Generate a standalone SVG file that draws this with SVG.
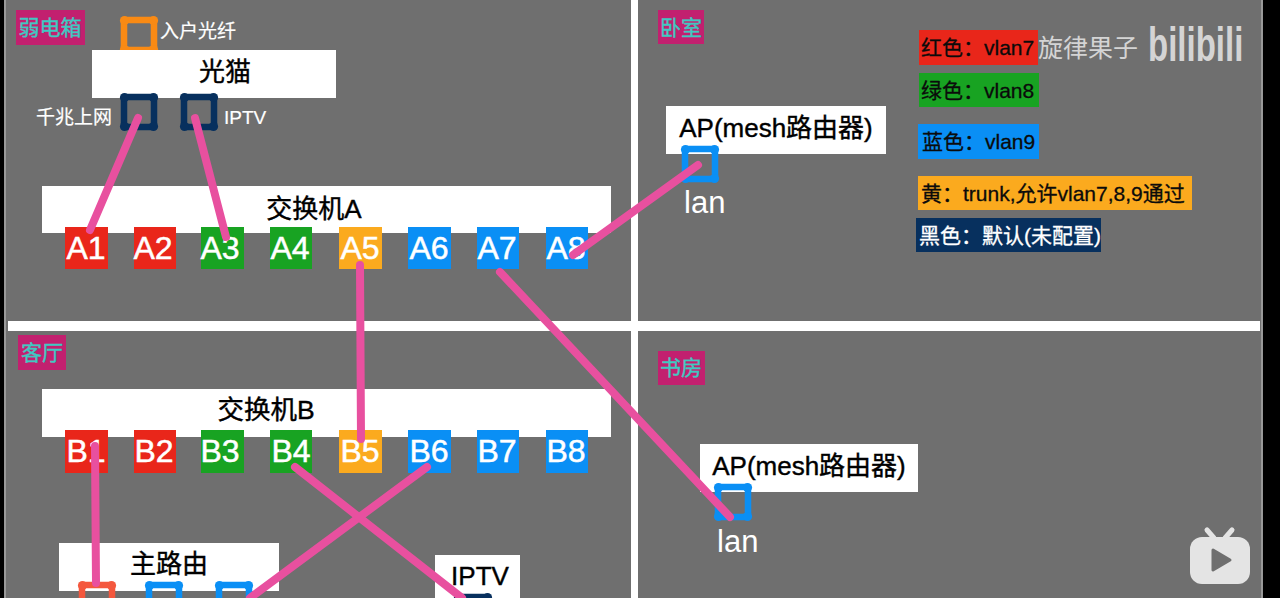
<svg xmlns="http://www.w3.org/2000/svg" width="1280" height="598" viewBox="0 0 1280 598">
<style>
text{font-family:"Liberation Sans","Noto Sans CJK SC",sans-serif}
.w{fill:#fff}.box{fill:#fff}
.t{fill:#000;stroke:#000;stroke-width:.4;font-size:26px;text-anchor:middle}
.p{fill:#fff;stroke:#fff;stroke-width:.5;font-size:32px;text-anchor:middle}
.tag{fill:#c2206f}.tagt{fill:#3fc9c2;stroke:#3fc9c2;stroke-width:.4;font-size:21px;text-anchor:middle}
.s{fill:#fff;font-size:19px;stroke:#fff;stroke-width:.2}
.l{font-size:21px;fill:#0b0b0b;stroke:#0b0b0b;stroke-width:.3}
.lan{fill:#fff;font-size:31px}
.link{fill:none;stroke:#e8509f;stroke-width:8;stroke-linecap:round}
.red{fill:#e9261a}.grn{fill:#18a322}.blu{fill:#0a8ff5}.yel{fill:#fbaa1e}.nav{fill:#07305e}
</style>
<defs>
<g id="port">
<rect x="-15" y="-15" width="30" height="30" rx="3" fill="none" stroke="currentColor" stroke-width="6.5"/>
<circle cx="-14.5" cy="-14.5" r="4.6" fill="currentColor"/><circle cx="14.5" cy="-14.5" r="4.6" fill="currentColor"/>
<circle cx="-14.5" cy="14.5" r="4.6" fill="currentColor"/><circle cx="14.5" cy="14.5" r="4.6" fill="currentColor"/>
</g>
</defs>
<rect width="1280" height="598" fill="#6f6f6f"/>
<rect width="4" height="598" fill="#000"/>
<rect x="1263" width="17" height="598" fill="#000"/>
<rect x="4" width="2" height="598" fill="#999"/>
<rect x="1261" width="2" height="598" fill="#999"/>
<rect x="631" y="0" width="7" height="598" fill="#fff"/>
<rect x="8" y="321" width="1252" height="10" fill="#fff"/>

<g id="room-box"><rect class="tag" x="16" y="10" width="69" height="35"/><text class="tagt" x="50" y="35">弱电箱</text></g>
<g id="room-bedroom"><rect class="tag" x="658" y="10" width="46" height="34"/><text class="tagt" x="681" y="35">卧室</text></g>
<g id="room-living"><rect class="tag" x="18" y="335" width="48" height="35"/><text class="tagt" x="42" y="360">客厅</text></g>
<g id="room-study"><rect class="tag" x="658" y="351" width="47" height="34"/><text class="tagt" x="681" y="375">书房</text></g>

<g id="fiber"><use href="#port" transform="translate(139 35)" color="#f98a14"/><text class="s" x="160" y="38">入户光纤</text></g>
<g id="modem"><rect class="box" x="92" y="50" width="244" height="48"/><text class="t" x="225" y="81">光猫</text></g>
<g id="modem-lan"><use href="#port" transform="translate(139 112)" color="#07305e"/><text class="s" x="36" y="124">千兆上网</text></g>
<g id="modem-iptv"><use href="#port" transform="translate(199 112)" color="#07305e"/><text class="s" x="224" y="124">IPTV</text></g>

<g id="switch-a"><rect class="box" x="42" y="186" width="569" height="47"/><text class="t" x="314" y="218">交换机A</text></g>
<g id="A1"><rect class="red" x="65" y="227" width="43" height="42"/><text class="p" x="86" y="259">A1</text></g>
<g id="A2"><rect class="red" x="134" y="227" width="42" height="42"/><text class="p" x="153" y="259">A2</text></g>
<g id="A3"><rect class="grn" x="201" y="227" width="43" height="42"/><text class="p" x="220" y="259">A3</text></g>
<g id="A4"><rect class="grn" x="270" y="227" width="42" height="42"/><text class="p" x="290" y="259">A4</text></g>
<g id="A5"><rect class="yel" x="339" y="227" width="43" height="42"/><text class="p" x="360" y="259">A5</text></g>
<g id="A6"><rect class="blu" x="408" y="227" width="43" height="42"/><text class="p" x="429" y="259">A6</text></g>
<g id="A7"><rect class="blu" x="477" y="227" width="42" height="42"/><text class="p" x="497" y="259">A7</text></g>
<g id="A8"><rect class="blu" x="546" y="227" width="42" height="42"/><text class="p" x="566" y="259">A8</text></g>

<g id="switch-b"><rect class="box" x="42" y="389" width="569" height="48"/><text class="t" x="266" y="419" style="font-size:26.5px">交换机B</text></g>
<g id="B1"><rect class="red" x="65" y="430" width="43" height="43"/><text class="p" x="86" y="462">B1</text></g>
<g id="B2"><rect class="red" x="134" y="430" width="42" height="43"/><text class="p" x="154" y="462">B2</text></g>
<g id="B3"><rect class="grn" x="201" y="430" width="43" height="43"/><text class="p" x="220" y="462">B3</text></g>
<g id="B4"><rect class="grn" x="270" y="430" width="42" height="43"/><text class="p" x="291" y="462">B4</text></g>
<g id="B5"><rect class="yel" x="339" y="430" width="43" height="43"/><text class="p" x="360" y="462">B5</text></g>
<g id="B6"><rect class="blu" x="408" y="430" width="43" height="43"/><text class="p" x="429" y="462">B6</text></g>
<g id="B7"><rect class="blu" x="477" y="430" width="42" height="43"/><text class="p" x="497" y="462">B7</text></g>
<g id="B8"><rect class="blu" x="546" y="430" width="42" height="43"/><text class="p" x="566" y="462">B8</text></g>

<g id="router"><rect class="box" x="59" y="543" width="220" height="48"/><text class="t" x="169" y="573">主路由</text></g>
<g id="router-p1"><use href="#port" transform="translate(97 600)" color="#f4583e"/></g>
<g id="router-p2"><use href="#port" transform="translate(164 600)" color="#0a8ff5"/></g>
<g id="router-p3"><use href="#port" transform="translate(234 600)" color="#0a8ff5"/></g>
<g id="iptv"><rect class="box" x="435" y="555" width="85" height="48"/><text class="t" x="480" y="585">IPTV</text></g>
<g id="iptv-p"><use href="#port" transform="translate(473 612)" color="#07305e"/></g>

<g id="ap-bedroom"><rect class="box" x="666" y="106" width="220" height="48"/><text class="t" x="776" y="137">AP(mesh路由器)</text></g>
<g id="ap-bedroom-lan"><use href="#port" transform="translate(700 164)" color="#0a8ff5"/><text x="684" y="213" class="lan">lan</text></g>
<g id="ap-study"><rect class="box" x="700" y="444" width="218" height="48"/><text class="t" x="809" y="475">AP(mesh路由器)</text></g>
<g id="ap-study-lan"><use href="#port" transform="translate(733 502)" color="#0a8ff5"/><text x="717" y="552" class="lan">lan</text></g>

<g id="legend">
<rect class="red" x="919" y="30" width="119" height="35"/><text class="l" x="921" y="55">红色：vlan7</text>
<rect class="grn" x="919" y="73" width="120" height="34"/><text class="l" x="921" y="98">绿色：vlan8</text>
<rect class="blu" x="918" y="124" width="121" height="35"/><text class="l" x="922" y="149">蓝色：vlan9</text>
<rect class="yel" x="918" y="176" width="274" height="34"/><text class="l" x="921" y="201">黄：trunk,允许vlan7,8,9通过</text>
<rect class="nav" x="916" y="218" width="185" height="34"/><text class="l" x="919" y="243" style="fill:#fff;stroke:#fff">黑色：默认(未配置)</text>
</g>

<g id="connectors">
<path class="link" d="M138 118L90 230"/>
<path class="link" d="M195 118L226 237"/>
<path class="link" d="M698 165L573 255"/>
<path class="link" d="M360 265L361 439"/>
<path class="link" d="M500 272L730 517"/>
<path class="link" d="M95 446L96 583"/>
<path class="link" d="M427 467L250 598"/>
<path class="link" d="M295 467L462 598"/>
</g>

<g id="watermark">
<text x="1038" y="57" style="font-size:25px;fill:#d4d4d4">旋律果子</text>
<text transform="translate(1148 61) scale(1 1.45)" style="font-size:33px;font-weight:700;fill:#d4d4d4">bilibili</text>
<g id="tv-icon">
<path d="M1207 530L1214 538M1232 530L1225 538" stroke="#e4e4e4" stroke-width="5" stroke-linecap="round"/>
<rect x="1190" y="537" width="60" height="47" rx="12" fill="#e4e4e4"/>
<path d="M1213 550L1230 560L1213 570Z" fill="#6f6f6f" stroke="#6f6f6f" stroke-width="3" stroke-linejoin="round"/>
</g>
</g>
</svg>
